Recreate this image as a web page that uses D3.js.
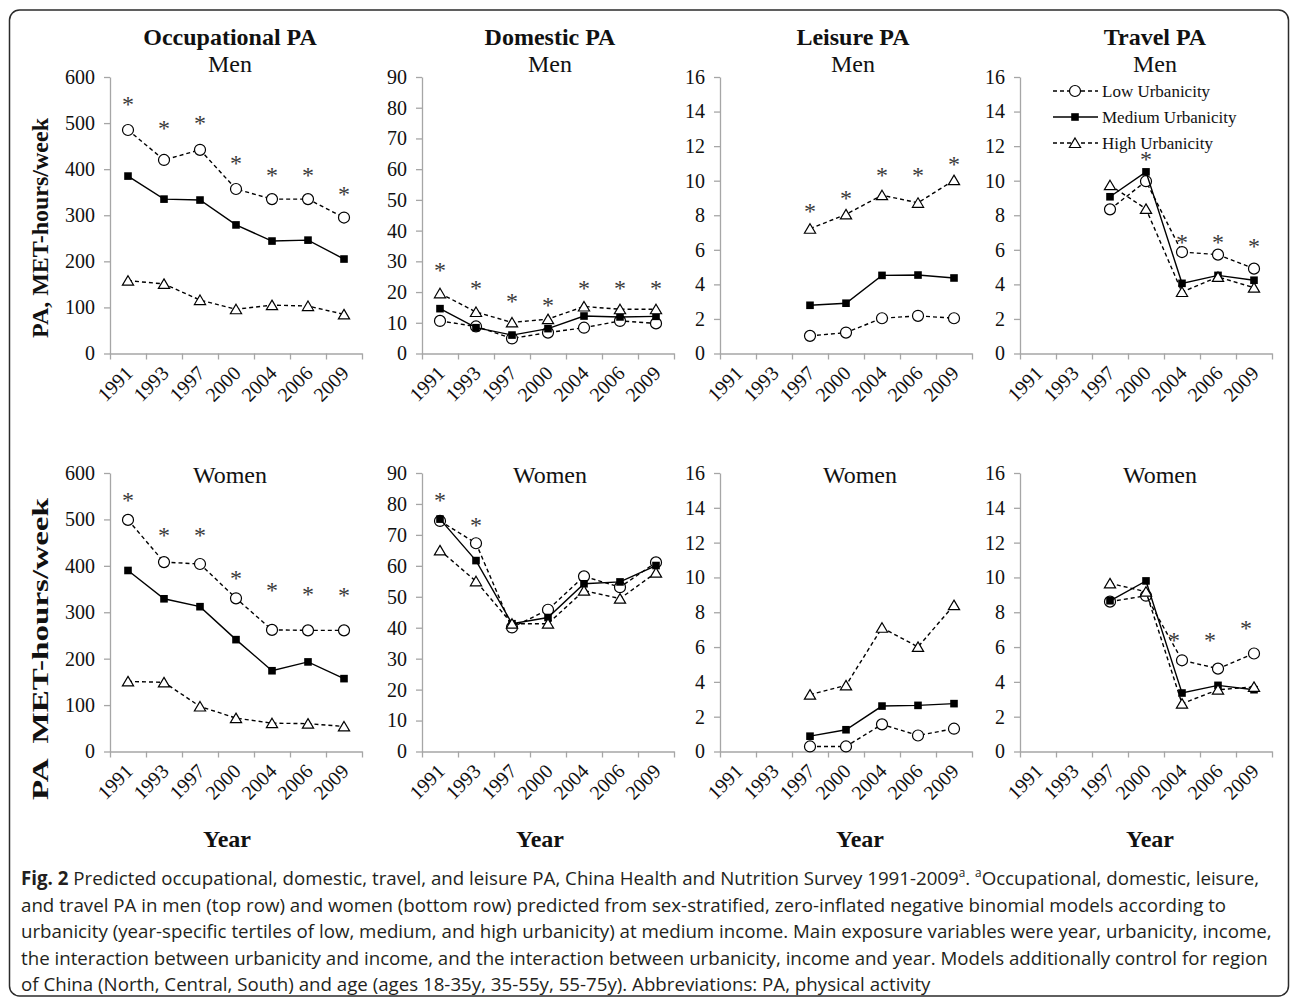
<!DOCTYPE html>
<html>
<head>
<meta charset="utf-8">
<title>Fig. 2 - Predicted PA by urbanicity</title>
<style>
  body { margin: 0; background: #fff; }
  svg { display: block; }
  .serif { font-family: "Liberation Serif", "Times New Roman", serif; fill: #111; }
  .axis path, .axis line { stroke: #a6a6a6; stroke-width: 1.3; }
  .axis text { font-family: "Liberation Serif", "Times New Roman", serif; fill: #111; }
  .caption { font-family: "Open Sans", sans-serif; font-size: 19px; fill: #231f20; }
</style>
</head>
<body>
<svg width="1290" height="998"></svg>

<script src="https://d3js.org/d3.v7.min.js"></script>
<script>

var years = ['1991', '1993', '1997', '2000', '2004', '2006', '2009'];

// men
var occMenLow  = [485, 420, 442, 357, 335, 335, 295];
var occMenMed  = [385, 335, 333, 279, 244, 246, 205];
var occMenHigh = [158, 151, 116, 96, 105, 103, 85];
var occMenStar = [551, 500, 509, 424, 397, 397, 355];

var domMenLow  = [10.6, 8.8, 4.9, 6.8, 8.4, 10.6, 9.8];
var domMenMed  = [14.6, 8.4, 6.0, 8.1, 12.2, 11.9, 12.1];
var domMenHigh = [19.6, 13.5, 10.1, 11.2, 15.3, 14.4, 14.4];
var domMenStar = [28.8, 22.7, 18.7, 17.4, 22.7, 22.7, 22.8];

var leiMenLow  = [null, null, 1.02, 1.21, 2.04, 2.18, 2.04];
var leiMenMed  = [null, null, 2.79, 2.91, 4.52, 4.54, 4.37];
var leiMenHigh = [null, null, 7.22, 8.05, 9.16, 8.72, 10.03];
var leiMenStar = [null, null, 8.53, 9.26, 10.6, 10.6, 11.2];

var traMenLow  = [null, null, 8.34, 9.97, 5.87, 5.72, 4.91];
var traMenMed  = [null, null, 9.07, 10.51, 4.06, 4.52, 4.24];
var traMenHigh = [null, null, 9.74, 8.37, 3.56, 4.43, 3.81];
var traMenStar = [null, null, null, 11.5, 6.7, 6.7, 6.5];

// women
var occWomenLow  = [499, 408, 404, 330, 262, 261, 261];
var occWomenMed  = [390, 329, 312, 241, 174, 193, 157];
var occWomenHigh = [151, 149, 97, 72, 61, 60, 54];
var occWomenStar = [551, 476, 476, 384, 357, 348, 346];

var domWomenLow  = [74.5, 67.3, 40.1, 45.8, 56.6, 53.1, 61.1];
var domWomenMed  = [75.1, 61.7, 41.3, 43.3, 54.2, 54.8, 60.1];
var domWomenHigh = [65.0, 55.0, 41.3, 41.3, 52.0, 49.4, 57.8];
var domWomenStar = [82.6, 74.8, null, null, null, null, null];

var leiWomenLow  = [null, null, 0.29, 0.29, 1.56, 0.92, 1.31];
var leiWomenMed  = [null, null, 0.88, 1.25, 2.61, 2.65, 2.75];
var leiWomenHigh = [null, null, 3.27, 3.80, 7.11, 6.01, 8.41];
var leiWomenStar = [null, null, null, null, null, null, null];

var traWomenLow  = [null, null, 8.61, 8.95, 5.24, 4.76, 5.63];
var traWomenMed  = [null, null, 8.66, 9.80, 3.36, 3.80, 3.55];
var traWomenHigh = [null, null, 9.66, 9.18, 2.75, 3.55, 3.71];
var traWomenStar = [null, null, null, null, 6.68, 6.68, 7.36];

var legendLabels = ['Low Urbanicity', 'Medium Urbanicity', 'High Urbanicity'];

var panels = [
    {row: 0, col: 0, yMax: 600, step: 100, low: occMenLow, med: occMenMed, high: occMenHigh, star: occMenStar, title: 'Occupational PA', sub: 'Men'},
    {row: 0, col: 1, yMax: 90, step: 10, low: domMenLow, med: domMenMed, high: domMenHigh, star: domMenStar, title: 'Domestic PA', sub: 'Men'},
    {row: 0, col: 2, yMax: 16, step: 2, low: leiMenLow, med: leiMenMed, high: leiMenHigh, star: leiMenStar, title: 'Leisure PA', sub: 'Men'},
    {row: 0, col: 3, yMax: 16, step: 2, low: traMenLow, med: traMenMed, high: traMenHigh, star: traMenStar, title: 'Travel PA', sub: 'Men', legend: true},
    {row: 1, col: 0, yMax: 600, step: 100, low: occWomenLow, med: occWomenMed, high: occWomenHigh, star: occWomenStar, sub: 'Women'},
    {row: 1, col: 1, yMax: 90, step: 10, low: domWomenLow, med: domWomenMed, high: domWomenHigh, star: domWomenStar, sub: 'Women'},
    {row: 1, col: 2, yMax: 16, step: 2, low: leiWomenLow, med: leiWomenMed, high: leiWomenHigh, star: leiWomenStar, sub: 'Women'},
    {row: 1, col: 3, yMax: 16, step: 2, low: traWomenLow, med: traWomenMed, high: traWomenHigh, star: traWomenStar, sub: 'Women', starDx: -8}
];

// layout
var colLeft = [110, 422, 720, 1020],
    plotW = 252,
    rowTop = [77, 473],
    rowBottom = [353.5, 751.5],
    titleX = [[230, 550, 853, 1155], [230, 550, 860, 1160]],
    yearX = [227, 540, 860, 1150];

var svg = d3.select('svg');

// figure frame
svg.append('rect')
    .attr('x', 9.5).attr('y', 10)
    .attr('width', 1279).attr('height', 986)
    .attr('rx', 10)
    .attr('fill', 'none')
    .attr('stroke', '#2b2b2b')
    .attr('stroke-width', 1.5);

function drawMarker(sel, type) {
    if (type === 'circle') {
        sel.append('circle').attr('r', 5.5)
            .attr('fill', '#fff').attr('stroke', '#000').attr('stroke-width', 1.2);
    } else if (type === 'square') {
        sel.append('rect').attr('x', -3.8).attr('y', -3.8).attr('width', 7.6).attr('height', 7.6)
            .attr('fill', '#000');
    } else {
        sel.append('path').attr('d', 'M0,-5L5.6,4.5L-5.6,4.5Z')
            .attr('fill', '#fff').attr('stroke', '#000').attr('stroke-width', 1.2);
    }
}

panels.forEach(function(p) {
    var x0 = colLeft[p.col], yb = rowBottom[p.row], yt = rowTop[p.row];
    var x = d3.scaleBand().domain(years).range([x0, x0 + plotW]);
    var xEdge = d3.scaleLinear().domain([0, years.length]).range([x0, x0 + plotW]);
    var y = d3.scaleLinear().domain([0, p.yMax]).range([yb, yt]);
    var cx = d => x(d) + x.bandwidth() / 2;
    var g = svg.append('g');

    // y axis
    var ya = g.append('g')
        .attr('class', 'axis')
        .attr('transform', `translate(${x0},0)`)
        .call(d3.axisLeft(y)
            .tickValues(d3.range(0, p.yMax + 1e-6, p.step))
            .tickSize(6).tickSizeOuter(0).tickPadding(9));
    ya.attr('font-family', null).attr('font-size', null);
    ya.selectAll('text').style('font-size', '20px');

    // x axis: ticks on category boundaries
    g.append('g')
        .attr('class', 'axis')
        .attr('transform', `translate(0,${yb})`)
        .call(d3.axisBottom(xEdge)
            .tickValues(d3.range(years.length + 1))
            .tickFormat('').tickSize(6).tickSizeOuter(0));

    g.selectAll('.xlab')
        .data(years)
        .enter().append('text')
            .attr('class', 'serif')
            .attr('transform', d => `translate(${cx(d) + 6},${yb + 21}) rotate(-45)`)
            .attr('text-anchor', 'end')
            .style('font-size', '20px')
            .text(d => d);

    // titles
    if (p.title) {
        g.append('text').attr('class', 'serif')
            .attr('x', titleX[p.row][p.col]).attr('y', 45)
            .attr('text-anchor', 'middle')
            .style('font-size', '24px').style('font-weight', 'bold')
            .text(p.title);
    }
    g.append('text').attr('class', 'serif')
        .attr('x', titleX[p.row][p.col]).attr('y', p.row === 0 ? 72 : 483)
        .attr('text-anchor', 'middle')
        .style('font-size', '24px')
        .text(p.sub);

    // series
    var series = [
        {vals: p.low, dash: '4,3', marker: 'circle'},
        {vals: p.med, dash: null, marker: 'square'},
        {vals: p.high, dash: '4,3', marker: 'triangle'}
    ];
    var line = d3.line()
        .defined(d => d.v != null)
        .x(d => cx(d.yr))
        .y(d => y(d.v));

    series.forEach(function(s) {
        var pts = years.map((yr, i) => ({yr: yr, v: s.vals[i]}));
        g.append('path')
            .attr('d', line(pts))
            .attr('fill', 'none')
            .attr('stroke', '#000')
            .attr('stroke-width', 1.4)
            .attr('stroke-dasharray', s.dash);
        g.selectAll(null)
            .data(pts.filter(d => d.v != null))
            .enter().append('g')
                .attr('transform', d => `translate(${cx(d.yr)},${y(d.v)})`)
                .call(drawMarker, s.marker);
    });

    // significance stars
    var stars = years.map((yr, i) => ({yr: yr, v: p.star[i]})).filter(d => d.v != null);
    g.selectAll('.star')
        .data(stars)
        .enter().append('text')
            .attr('class', 'serif')
            .attr('x', d => cx(d.yr) + (p.starDx || 0))
            .attr('y', d => y(d.v) + 12.5)
            .attr('text-anchor', 'middle')
            .style('font-size', '24px')
            .style('fill', '#3a3a3a')
            .text('*');

    // legend
    if (p.legend) {
        var lg = g.append('g');
        legendLabels.forEach(function(lab, i) {
            var ly = 91 + i * 26;
            lg.append('line')
                .attr('x1', 1053).attr('x2', 1098).attr('y1', ly).attr('y2', ly)
                .attr('stroke', '#000').attr('stroke-width', 1.4)
                .attr('stroke-dasharray', series[i].dash);
            lg.append('g').attr('transform', `translate(1075,${ly})`)
                .call(drawMarker, series[i].marker);
            lg.append('text').attr('class', 'serif')
                .attr('x', 1102).attr('y', ly + 6)
                .style('font-size', '17px')
                .text(lab);
        });
    }
});

// y axis titles
svg.append('text').attr('class', 'serif')
    .attr('transform', 'translate(48,228) rotate(-90)')
    .attr('text-anchor', 'middle')
    .style('font-size', '24px').style('font-weight', 'bold')
    .text('PA, MET-hours/week');

svg.append('text').attr('class', 'serif')
    .attr('transform', 'translate(48,649) rotate(-90)')
    .attr('text-anchor', 'middle')
    .attr('textLength', 302)
    .attr('lengthAdjust', 'spacingAndGlyphs')
    .style('font-size', '24px').style('font-weight', 'bold')
    .style('white-space', 'pre')
    .text('PA  MET-hours/week');

// x axis titles
yearX.forEach(function(xx) {
    svg.append('text').attr('class', 'serif')
        .attr('x', xx).attr('y', 847)
        .attr('text-anchor', 'middle')
        .style('font-size', '24px').style('font-weight', 'bold')
        .text('Year');
});

// caption
var captionLines = [
    [{t: 'Fig. 2', b: true}, {t: ' Predicted occupational, domestic, travel, and leisure PA, China Health and Nutrition Survey 1991-2009'},
     {t: 'a', sup: true}, {t: '. '}, {t: 'a', sup: true}, {t: 'Occupational, domestic, leisure,'}],
    [{t: 'and travel PA in men (top row) and women (bottom row) predicted from sex-stratified, zero-inflated negative binomial models according to'}],
    [{t: 'urbanicity (year-specific tertiles of low, medium, and high urbanicity) at medium income. Main exposure variables were year, urbanicity, income,'}],
    [{t: 'the interaction between urbanicity and income, and the interaction between urbanicity, income and year. Models additionally control for region'}],
    [{t: 'of China (North, Central, South) and age (ages 18-35y, 35-55y, 55-75y). Abbreviations: PA, physical activity'}]
];

var capGroups = captionLines.map(function(segs, i) {
    var lg = svg.append('g');
    var txt = lg.append('text').attr('class', 'caption').attr('x', 0).attr('y', 0);
    segs.forEach(function(s, j) {
        var ts = txt.append('tspan').style('white-space', 'pre').text(s.t);
        if (s.b) ts.style('font-weight', 'bold');
        if (s.sup) ts.style('font-size', '12px').attr('dy', -8);
        else if (j > 0 && segs[j - 1].sup) ts.attr('dy', 8);
    });
    return {g: lg, w: txt.node().getComputedTextLength()};
});
// one horizontal scale for all lines, fitted to the third (full) line
var capScale = (1272 - 21) / capGroups[2].w;
capGroups.forEach(function(c, i) {
    c.g.attr('transform', `translate(21,${885 + i * 26.5}) scale(${capScale},1)`);
});

</script>
</body>
</html>
